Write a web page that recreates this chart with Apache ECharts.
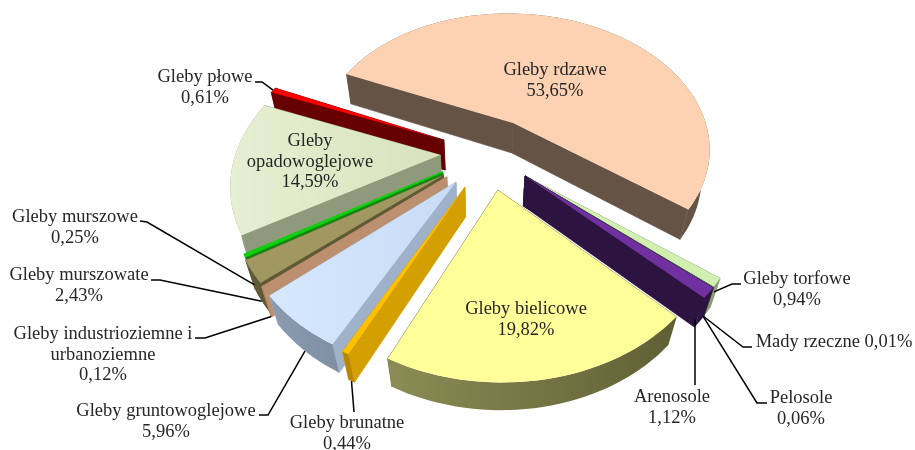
<!DOCTYPE html>
<html><head><meta charset="utf-8">
<script src="https://cdn.jsdelivr.net/npm/echarts@6/dist/echarts.min.js"></script>
<style>html,body{margin:0;background:#fff}#c{width:915px;height:450px}</style></head>
<body><div id="c"></div>
<script>
// ---- data ----
const categories = ['Gleby rdzawe','Gleby torfowe','Mady rzeczne','Pelosole','Arenosole','Gleby bielicowe','Gleby brunatne','Gleby gruntowoglejowe','Gleby industrioziemne i urbanoziemne','Gleby murszowate','Gleby murszowe','Gleby opadowoglejowe','Gleby płowe'];
const shares = [53.65,0.94,0.01,0.06,1.12,19.82,0.44,5.96,0.12,2.43,0.25,14.59,0.61];
const labelLines = [['Gleby rdzawe','53,65%'],['Gleby torfowe','0,94%'],['Mady rzeczne 0,01%'],['Pelosole','0,06%'],['Arenosole','1,12%'],['Gleby bielicowe','19,82%'],['Gleby brunatne','0,44%'],['Gleby gruntowoglejowe','5,96%'],['Gleby industrioziemne i','urbanoziemne','0,12%'],['Gleby murszowate','2,43%'],['Gleby murszowe','0,25%'],['Gleby','opadowoglejowe','14,59%'],['Gleby płowe','0,61%']];

// ---- styles and layout ----
const topColors  = [['#FDD2B2','#FDD2B2'],['#D0EFB0','#D0EFB0'],['#5a6a5a','#5a6a5a'],['#5a6a5a','#5a6a5a'],['#7030A0','#7030A0'],['#FFFF99','#FFFF99'],['#FFC000','#FFC000'],['#D6E8FE','#C8DCF6'],['#BC8F6E','#BC8F6E'],['#A09860','#A09860'],['#10D010','#10D010'],['#E6EFD2','#D8E3BC'],['#FF0000','#FF0000']];
const wallColors = ['#655446','#8a9a78','#4a564a','#4a564a','#2D1340','#66663A','#D49F00','#9FB2CA','#BC8F6E','#5F5A35','#0a8a0a','#8F9A7C','#660000'];
const outerWall  = [['#655446','#655446'],['#8a9a78','#8a9a78'],['#4a564a','#4a564a'],['#4a564a','#4a564a'],['#2D1340','#2D1340'],['#8C8C55','#5F5F35'],['#B58800','#B58800'],['#8C9BB0','#6C7A8C'],['#A07A5C','#A07A5C'],['#5F5A35','#5F5A35'],['#0a8a0a','#0a8a0a'],['#8F9A7C','#8F9A7C'],['#660000','#660000']];
const explode = [[.165,.263],[.21,-.106],[.21,-.106],[.21,-.106],[.21,-.106],[.082,-.196],[-.069,-.177],[-.111,-.145],[-.154,-.112],[-.17,-.1],[-.174,-.08],[-.19,.034],[-.176,.139]];
const radii = [.96,.98,.98,.98,.98,.98,.98,.98,.97,.96,.96,.98,.98];
const topSeal = [0,0,0,0,0,0,0,0,0,0,1.4,0,0];
const drawOrder = [0,12,11,10,9,8,1,2,3,4,7,6,5];
const CAM = {cx:480, cy:160, F:800, D:3.8, sin:.7, cos:.714, h:.207, start:-66};
const LABEL_FONT = {fontFamily:'"Liberation Serif"', fontSize:18.5, fill:'#262626'};
// label centre x, first-line centre y, leader start, elbow, anchor height and radial fractions
const labelLayout = [
 {x:555,y:70},
 {x:797,y:279,from:[741,284],elbow:[732,284],az:.3,r:1},
 {x:834,y:342,from:[752,347],elbow:[743,347],az:1,r:1},
 {x:801,y:398,from:[767,403],elbow:[757,403],az:1,r:1},
 {x:672,y:397,from:[695,385],az:1,r:.98},
 {x:526,y:309},
 {x:347,y:423,from:[354,412],az:1,r:1},
 {x:166,y:411,from:[259,415],elbow:[268,415],az:1,r:1},
 {x:103,y:334,from:[195,338],elbow:[205,338],az:1,r:1},
 {x:79,y:275,from:[151,280],elbow:[160,280],az:1,r:1},
 {x:75,y:217,from:[140,221],elbow:[147,222],az:1,r:1},
 {x:310,y:141},
 {x:205,y:77,from:[255,82],elbow:[262,82],az:0,r:1}
];

function project(X,Y,Z){
  const depth = Y*CAM.cos - Z*CAM.sin + CAM.D;
  const yc = Y*CAM.sin + Z*CAM.cos;
  const s = CAM.F/depth;
  return [CAM.cx + X*s, CAM.cy - yc*s];
}
const total = shares.reduce((a,b)=>a+b,0);
function sliceAngles(i){
  let a = CAM.start;
  for(let k=0;k<i;k++) a += shares[k]/total*360;
  return [a, a+shares[i]/total*360];
}
function ground(i,bearing,f){
  const r = bearing*Math.PI/180, R = radii[i]*(f||1);
  return [explode[i][0]+R*Math.sin(r), explode[i][1]+R*Math.cos(r)];
}
function polygon(points,fill,z2,seal,w){
  return {type:'polygon',shape:{points},style:{fill,stroke:seal||null,lineWidth:seal?(w||.7):0},z2,silent:true};
}
function hGrad(x0,x1,pair){
  return new echarts.graphic.LinearGradient(x0,0,x1,0,[{offset:0,color:pair[0]},{offset:1,color:pair[1]}],true);
}
function renderSlice(params,api){
  const i = params.dataIndex;
  api.value(0);
  const [a0,a1] = sliceAngles(i);
  const n = Math.max(2,Math.ceil((a1-a0)/2));
  const arcTop=[],arcBot=[];
  for(let k=0;k<=n;k++){
    const g = ground(i,a0+(a1-a0)*k/n);
    arcTop.push(project(g[0],g[1],0));
    arcBot.push(project(g[0],g[1],-CAM.h));
  }
  const apexT = project(explode[i][0],explode[i][1],0);
  const apexB = project(explode[i][0],explode[i][1],-CAM.h);
  const base = drawOrder.indexOf(i)*10;
  const xs = arcTop.map(p=>p[0]).concat(apexT[0]);
  const x0 = Math.min(...xs), x1 = Math.max(...xs);
  return {type:'group',children:[
    polygon([apexT,arcTop[0],arcBot[0],apexB],wallColors[i],base,wallColors[i]),
    polygon([apexT,arcTop[n],arcBot[n],apexB],wallColors[i],base,wallColors[i]),
    polygon(arcTop.concat(arcBot.slice().reverse()),hGrad(x0,x1,outerWall[i]),base+1),
    polygon([apexT].concat(arcTop),hGrad(x0,x1,topColors[i]),base+2,topSeal[i]?topColors[i][0]:null,topSeal[i])
  ]};
}
function renderLabel(params,api){
  const i = params.dataIndex;
  api.value(0);
  const L = labelLayout[i], children=[];
  if(L.from){
    const [a0,a1] = sliceAngles(i);
    const g = ground(i,(a0+a1)/2,L.r);
    const anchor = project(g[0],g[1],-CAM.h*L.az);
    const pts = L.elbow?[L.from,L.elbow,anchor]:[L.from,anchor];
    children.push({type:'polyline',shape:{points:pts},style:{stroke:'#000',lineWidth:1.5,fill:null},z2:200,silent:true});
  }
  labelLines[i].forEach((t,k)=>{
    children.push({type:'text',x:L.x,y:L.y+k*20.7,z2:210,silent:true,
      style:Object.assign({text:t,textAlign:'center',textVerticalAlign:'middle'},LABEL_FONT)});
  });
  return {type:'group',children};
}
const chart = echarts.init(document.getElementById('c'),null,{renderer:'canvas'});
const rows = categories.map((c,i)=>({name:c,value:[shares[i]]}));
chart.setOption({
  animation:false,
  backgroundColor:'#fff',
  xAxis:{show:false},yAxis:{show:false},
  series:[
    {type:'custom',coordinateSystem:'none',renderItem:renderSlice,data:rows,z:1},
    {type:'custom',coordinateSystem:'none',renderItem:renderLabel,data:rows,z:2}
  ]
});
</script></body></html>
